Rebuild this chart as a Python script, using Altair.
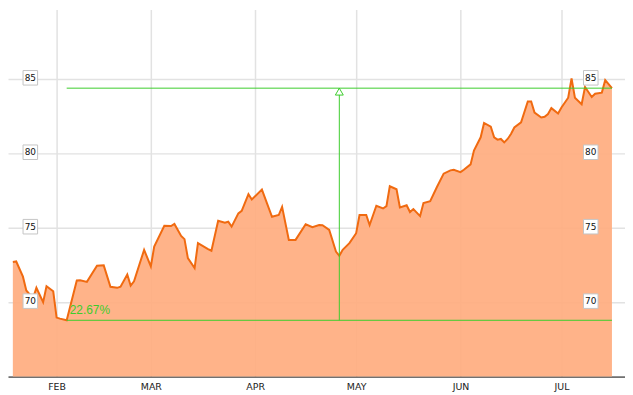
import altair as alt
import pandas as pd

# ---- data ----
dates = [
    "2007-01-19", "2007-01-20", "2007-01-22", "2007-01-23", "2007-01-25", "2007-01-26",
    "2007-01-28", "2007-01-29", "2007-01-31", "2007-02-01", "2007-02-02", "2007-02-04",
    "2007-02-07", "2007-02-08", "2007-02-10", "2007-02-13", "2007-02-15", "2007-02-17",
    "2007-02-19", "2007-02-20", "2007-02-22", "2007-02-23", "2007-02-24", "2007-02-27",
    "2007-03-01", "2007-03-02", "2007-03-05", "2007-03-07", "2007-03-08", "2007-03-10",
    "2007-03-11", "2007-03-12", "2007-03-14", "2007-03-15", "2007-03-18", "2007-03-19",
    "2007-03-21", "2007-03-23", "2007-03-24", "2007-03-25", "2007-03-27", "2007-03-28",
    "2007-03-30", "2007-03-31", "2007-04-03", "2007-04-06", "2007-04-08", "2007-04-09",
    "2007-04-11", "2007-04-13", "2007-04-16", "2007-04-18", "2007-04-20", "2007-04-21",
    "2007-04-23", "2007-04-25", "2007-04-26", "2007-04-27", "2007-04-29", "2007-05-01",
    "2007-05-02", "2007-05-04", "2007-05-05", "2007-05-07", "2007-05-09", "2007-05-10",
    "2007-05-11", "2007-05-13", "2007-05-14", "2007-05-16", "2007-05-17", "2007-05-18",
    "2007-05-20", "2007-05-21", "2007-05-23", "2007-05-25", "2007-05-27", "2007-05-29",
    "2007-05-30", "2007-06-01", "2007-06-02", "2007-06-04", "2007-06-05", "2007-06-07",
    "2007-06-08", "2007-06-10", "2007-06-11", "2007-06-12", "2007-06-13", "2007-06-14",
    "2007-06-15", "2007-06-16", "2007-06-17", "2007-06-19", "2007-06-21", "2007-06-22",
    "2007-06-23", "2007-06-25", "2007-06-26", "2007-06-27", "2007-06-28", "2007-06-30",
    "2007-07-01", "2007-07-03", "2007-07-04", "2007-07-05", "2007-07-07", "2007-07-08",
    "2007-07-10", "2007-07-11", "2007-07-13", "2007-07-14", "2007-07-16",
]
prices = [
    72.69, 72.73, 71.71, 70.78, 70.25, 70.96,
    70.00, 71.07, 70.73, 68.96, 68.89, 68.78,
    71.45, 71.47, 71.36, 72.45, 72.47, 71.03,
    70.96, 71.03, 71.85, 71.11, 71.40, 73.51,
    72.40, 73.73, 75.13, 75.11, 75.25, 74.45,
    74.23, 72.96, 72.29, 73.96, 73.56, 73.45,
    75.47, 75.33, 75.40, 75.07, 75.96, 76.13,
    77.25, 76.89, 77.56, 75.73, 75.85, 76.40,
    74.18, 74.18, 75.23, 75.03, 75.18, 75.16,
    74.85, 73.40, 73.11, 73.51, 73.96, 74.63,
    75.85, 75.85, 75.18, 76.47, 76.29, 76.45,
    77.78, 77.58, 76.36, 76.51, 76.05, 76.25,
    75.78, 76.65, 76.78, 77.73, 78.63, 78.85,
    78.89, 78.73, 78.89, 79.25, 80.18, 81.07,
    82.03, 81.78, 81.07, 80.91, 80.96, 80.73,
    80.96, 81.29, 81.73, 82.07, 83.47, 83.47,
    82.73, 82.40, 82.45, 82.63, 83.03, 82.67,
    83.07, 83.73, 85.03, 83.73, 83.29, 84.45,
    83.78, 84.00, 84.07, 84.91, 84.37,
]
month_ticks = [(2007, 2), (2007, 3), (2007, 4), (2007, 5), (2007, 6), (2007, 7)]
y_ticks = [70, 75, 80, 85]

# ---- derived tables ----
df = pd.DataFrame({"date": pd.to_datetime(dates), "price": prices})
low_i = prices.index(min(prices))
low_date, low = df["date"][low_i], prices[low_i]
last_date, last = df["date"].iloc[-1], prices[-1]
mid_date = low_date + (last_date - low_date) / 2
pct_text = f"{(last / low - 1) * 100:.2f}%"

levels = pd.DataFrame({"x": [low_date, low_date], "x2": [last_date, last_date], "y": [low, last]})
arrow = pd.DataFrame({"x": [mid_date], "y": [low], "y2": [last]})
head = pd.DataFrame({"x": [mid_date], "y": [last]})
label = pd.DataFrame({"x": [low_date], "y": [low], "t": [pct_text]})
ticks = pd.DataFrame({"v": y_ticks, "t": [str(v) for v in y_ticks]})

GREEN = "#3ccc2c"
FILL = "#ffad80"
LINE = "#f06a10"
GRID = "#e2e2e2"

Y_MIN, Y_TOP = 65, 89.65

x_scale = alt.Scale(domain=[alt.DateTime(year=2007, month=1, date=17, hours=13, minutes=26),
                            alt.DateTime(year=2007, month=7, date=19, hours=21, minutes=7)])
y_scale = alt.Scale(domain=[Y_MIN, Y_TOP], nice=False, zero=False)

x_axis = alt.Axis(values=[alt.DateTime(year=y, month=m, date=1) for y, m in month_ticks],
                  labelExpr="upper(timeFormat(datum.value, '%b'))",
                  grid=True, gridColor=GRID, gridWidth=1.5, ticks=False,
                  domainColor="#000000", domainWidth=1, labelPadding=5,
                  labelFont="DejaVu Sans", labelFontSize=9.5, labelColor="#222222",
                  title=None)
y_axis = alt.Axis(values=y_ticks, grid=True, gridColor=GRID, gridWidth=1.5,
                  labels=False, ticks=False, domain=False, title=None)

area = alt.Chart(df).mark_area(color=FILL, fillOpacity=0.93).encode(
    x=alt.X("date:T", scale=x_scale, axis=x_axis),
    y=alt.Y("price:Q", scale=y_scale, axis=y_axis),
    y2=alt.datum(Y_MIN),
)
line = alt.Chart(df).mark_line(color=LINE, strokeWidth=2).encode(
    x=alt.X("date:T", scale=x_scale),
    y=alt.Y("price:Q", scale=y_scale),
)
hlines = alt.Chart(levels).mark_rule(color=GREEN, strokeWidth=1).encode(
    x=alt.X("x:T", scale=x_scale), x2="x2:T",
    y=alt.Y("y:Q", scale=y_scale),
)
vline = alt.Chart(arrow).mark_rule(color=GREEN, strokeWidth=1).encode(
    x=alt.X("x:T", scale=x_scale),
    y=alt.Y("y:Q", scale=y_scale), y2="y2:Q",
)
arrowhead = alt.Chart(head).mark_point(shape="triangle-up", size=64, filled=True,
                                       fill="white", stroke=GREEN, strokeWidth=1,
                                       opacity=1, yOffset=3.5).encode(
    x=alt.X("x:T", scale=x_scale),
    y=alt.Y("y:Q", scale=y_scale),
)
pct = alt.Chart(label).mark_text(align="left", baseline="alphabetic", dx=3, dy=-6,
                                 font="Liberation Sans", fontSize=12, color=GREEN).encode(
    x=alt.X("x:T", scale=x_scale),
    y=alt.Y("y:Q", scale=y_scale),
    text="t:N",
)

def tick_labels(xpos):
    box = alt.Chart(ticks).mark_point(shape="square", size=215, filled=True, fill="white",
                                      stroke="#c4c4c4", strokeWidth=1, opacity=1,
                                      yOffset=-1).encode(
        x=alt.value(xpos), y=alt.Y("v:Q", scale=y_scale))
    txt = alt.Chart(ticks).mark_text(font="DejaVu Sans", fontSize=9, color="#111111",
                                     yOffset=-1).encode(
        x=alt.value(xpos), y=alt.Y("v:Q", scale=y_scale), text="t:N")
    return box + txt

chart = alt.layer(
    area, line, hlines, vline, arrowhead, pct, tick_labels(22.5), tick_labels(587.5)
).properties(
    width=622, height=370, padding=0
).configure_view(stroke=None)

chart.save("out.html", embed_options={"renderer": "svg", "actions": False})
